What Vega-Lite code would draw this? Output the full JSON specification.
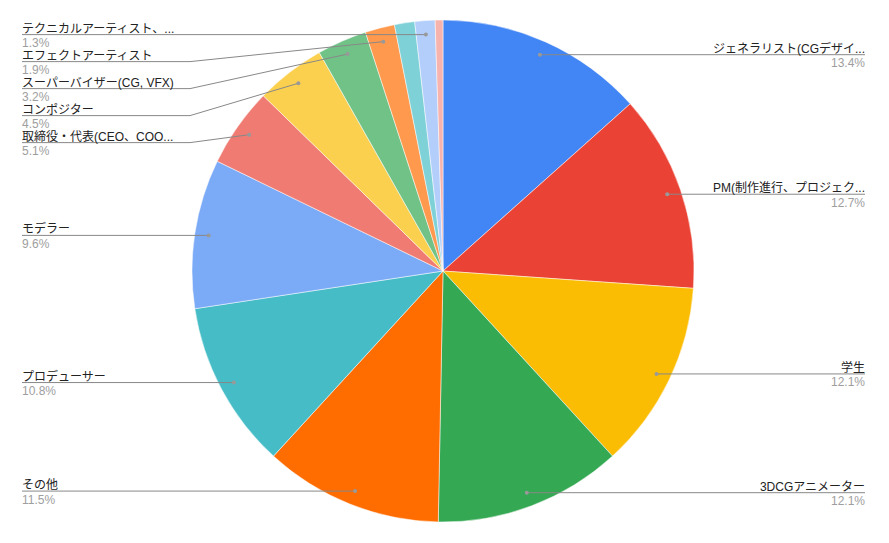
{
  "$schema": "https://vega.github.io/schema/vega-lite/v6.json",
  "width": 889,
  "height": 543,
  "autosize": {"type": "fit", "contains": "padding"},
  "padding": {"left": 0, "top": 0, "right": 3, "bottom": 1},
  "background": "white",
  "config": {
    "view": {"stroke": null},
    "text": {"font": "Liberation Sans, Noto Sans CJK JP, sans-serif", "fontSize": 12}
  },
  "data": {
    "values": [
      {"label": "ジェネラリスト(CGデザイ...", "pct": 13.4},
      {"label": "PM(制作進行、プロジェク...", "pct": 12.7},
      {"label": "学生", "pct": 12.1},
      {"label": "3DCGアニメーター", "pct": 12.1},
      {"label": "その他", "pct": 11.5},
      {"label": "プロデューサー", "pct": 10.8},
      {"label": "モデラー", "pct": 9.6},
      {"label": "取締役・代表(CEO、COO...", "pct": 5.1},
      {"label": "コンポジター", "pct": 4.5},
      {"label": "スーパーバイザー(CG, VFX)", "pct": 3.2},
      {"label": "エフェクトアーティスト", "pct": 1.9},
      {"label": "", "pct": 1.3},
      {"label": "テクニカルアーティスト、...", "pct": 1.3},
      {"label": "", "pct": 0.5}
    ]
  },
  "transform": [
    {"window": [{"op": "row_number", "as": "idx"}, {"op": "sum", "field": "pct", "as": "cum"}], "frame": [null, 0]},
    {"calculate": "(datum.cum - datum.pct / 2) / 100 * 2 * PI", "as": "mid"},
    {"calculate": "443 + 237 * sin(datum.mid)", "as": "dotX"},
    {"calculate": "271 - 237 * cos(datum.mid)", "as": "dotY"},
    {"calculate": "datum.mid < PI ? 'R' : 'L'", "as": "side"},
    {"calculate": "datum.side == 'L' ? 22 : 865", "as": "edgeX"},
    {"calculate": "datum.side == 'L' ? 190 : 696", "as": "bendX"},
    {"calculate": "format(datum.pct, '.1f') + '%'", "as": "pctText"}
  ],
  "layer": [
    {
      "mark": {"type": "arc", "outerRadius": 251, "stroke": "white", "strokeWidth": 0.5},
      "encoding": {
        "theta": {"field": "pct", "type": "quantitative", "stack": true},
        "order": {"field": "idx", "type": "quantitative"},
        "color": {
          "field": "idx",
          "type": "nominal",
          "scale": {
            "domain": [1, 2, 3, 4, 5, 6, 7, 8, 9, 10, 11, 12, 13, 14],
            "range": ["#4285F4", "#EA4335", "#FBBC04", "#34A853", "#FF6D01", "#46BDC6", "#7BAAF7", "#F07B72", "#FCD04F", "#71C287", "#FF994D", "#7ED1D7", "#B3CEFB", "#F7B4AE"]
          },
          "legend": null
        }
      }
    },
    {
      "transform": [
        {"filter": "datum.label != ''"},
        {"window": [{"op": "row_number", "as": "k"}], "groupby": ["side"], "sort": [{"field": "dotY", "order": "ascending"}]},
        {"calculate": "datum.dotY - 27 * datum.k", "as": "v"},
        {"window": [{"op": "max", "field": "v", "as": "vmax"}], "groupby": ["side"], "sort": [{"field": "dotY", "order": "ascending"}], "frame": [null, 0]},
        {"calculate": "datum.vmax + 27 * datum.k", "as": "labelY"}
      ],
      "layer": [
        {
          "mark": {"type": "rule", "color": "#888888", "strokeWidth": 1},
          "encoding": {
            "x": {"field": "edgeX", "type": "quantitative", "scale": {"domain": [0, 886], "nice": false, "zero": false}, "axis": null},
            "x2": {"field": "bendX"},
            "y": {"field": "labelY", "type": "quantitative", "scale": {"domain": [0, 542], "nice": false, "zero": false, "reverse": true}, "axis": null},
            "y2": {"field": "labelY"}
          }
        },
        {
          "mark": {"type": "rule", "color": "#888888", "strokeWidth": 1},
          "encoding": {
            "x": {"field": "bendX", "type": "quantitative"},
            "x2": {"field": "dotX"},
            "y": {"field": "labelY", "type": "quantitative"},
            "y2": {"field": "dotY"}
          }
        },
        {
          "mark": {"type": "point", "filled": true, "color": "#999999", "size": 16, "opacity": 1},
          "encoding": {
            "x": {"field": "dotX", "type": "quantitative"},
            "y": {"field": "dotY", "type": "quantitative"}
          }
        },
        {
          "transform": [{"filter": "datum.side == 'L'"}],
          "mark": {"type": "text", "align": "left", "baseline": "alphabetic", "dy": -2, "color": "#222222"},
          "encoding": {
            "x": {"field": "edgeX", "type": "quantitative"},
            "y": {"field": "labelY", "type": "quantitative"},
            "text": {"field": "label"}
          }
        },
        {
          "transform": [{"filter": "datum.side == 'L'"}],
          "mark": {"type": "text", "align": "left", "baseline": "alphabetic", "dy": 12.5, "color": "#9e9e9e"},
          "encoding": {
            "x": {"field": "edgeX", "type": "quantitative"},
            "y": {"field": "labelY", "type": "quantitative"},
            "text": {"field": "pctText"}
          }
        },
        {
          "transform": [{"filter": "datum.side == 'R'"}],
          "mark": {"type": "text", "align": "right", "baseline": "alphabetic", "dy": -2, "color": "#222222"},
          "encoding": {
            "x": {"field": "edgeX", "type": "quantitative"},
            "y": {"field": "labelY", "type": "quantitative"},
            "text": {"field": "label"}
          }
        },
        {
          "transform": [{"filter": "datum.side == 'R'"}],
          "mark": {"type": "text", "align": "right", "baseline": "alphabetic", "dy": 12.5, "color": "#9e9e9e"},
          "encoding": {
            "x": {"field": "edgeX", "type": "quantitative"},
            "y": {"field": "labelY", "type": "quantitative"},
            "text": {"field": "pctText"}
          }
        }
      ]
    }
  ]
}
